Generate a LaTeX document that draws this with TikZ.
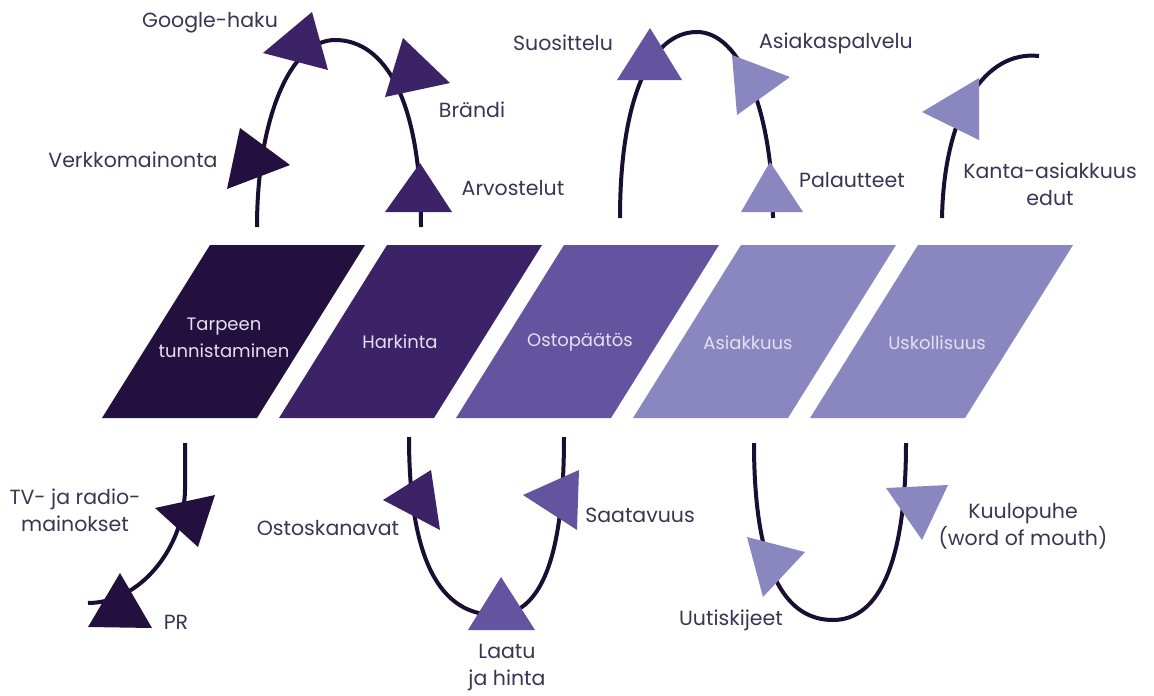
\documentclass[tikz,border=0pt]{standalone}
\usepackage{fontspec}
\setmainfont{Poppins}
\definecolor{cA}{HTML}{23103E}
\definecolor{cB}{HTML}{3C2266}
\definecolor{cC}{HTML}{6454A0}
\definecolor{cD}{HTML}{8A86C0}
\definecolor{linec}{HTML}{1A0F33}
\definecolor{labelc}{HTML}{3B3553}
\definecolor{stagetext}{HTML}{E4E0F0}
\begin{document}
\begin{tikzpicture}[x=1pt,y=-1pt,
  lbl/.style={text=labelc, font=\fontsize{20.5}{27}\selectfont, align=center, inner sep=0pt},
  stagelbl/.style={text=stagetext, font=\fontsize{18}{27}\selectfont, align=center, inner sep=0pt},
  conn/.style={draw=linec, line width=4pt}]
\useasboundingbox (0,0) rectangle (1154,696);
\fill[white] (0,0) rectangle (1154,696);

% stages
\foreach \i/\c in {0/cA,1/cB,2/cC,3/cD,4/cD}{
  \fill[\c] ({102+177*\i},418) -- ({257+177*\i},418) -- ({365+177*\i},245) -- ({210+177*\i},245) -- cycle;
}
\node[stagelbl] (s1) at (224,338) {Tarpeen\\tunnistaminen};
\node[stagelbl] (s2) at (400,342) {Harkinta};
\node[stagelbl] (s3) at (580,342) {Ostopäätös};
\node[stagelbl] (s4) at (748,343) {Asiakkuus};
\node[stagelbl] (s5) at (937,343) {Uskollisuus};

% curve end points
\coordinate (a1) at (257,227);
\coordinate (a2) at (421,227);
\coordinate (b1) at (620,218);
\coordinate (b2) at (773,218);
\coordinate (c1) at (942,218);
\coordinate (c2) at (1039,56);
\coordinate (d1) at (185,443);
\coordinate (d2) at (88,603);
\coordinate (e1) at (409,437);
\coordinate (e2) at (564,437);
\coordinate (f1) at (754,443);
\coordinate (f2) at (906,443);

% connectors
\draw[conn] (a1) .. controls (257,120) and (290,40) .. (335,40) .. controls (385,40) and (421,100) .. (a2);
\draw[conn] (b1) .. controls (620,100) and (650,32) .. (697,32) .. controls (740,32) and (773,110) .. (b2);
\draw[conn] (c1) .. controls (944,112) and (985,50) .. (c2);
\draw[conn] (d1) -- (185,490) .. controls (184,548) and (140,603) .. (d2);
\draw[conn] (e1) .. controls (409,560) and (440,615) .. (496,615) .. controls (540,615) and (564,560) .. (e2);
\draw[conn] (f1) .. controls (754,580) and (790,620) .. (833,620) .. controls (880,620) and (906,560) .. (f2);

% arrow triangles
\fill[cA] (240,128) -- (290,165) -- (227,189) -- cycle;
\fill[cB] (312,12) -- (328,70) -- (263,53) -- cycle;
\fill[cB] (403,38) -- (450,83) -- (385,97) -- cycle;
\fill[cB] (420,163) -- (452,212) -- (385,212) -- cycle;
\fill[cC] (650,28) -- (682,80) -- (617,80) -- cycle;
\fill[cD] (732,55) -- (790,77) -- (737,115) -- cycle;
\fill[cD] (770,162) -- (803,212) -- (741,212) -- cycle;
\fill[cD] (979,78) -- (922,112) -- (979,140) -- cycle;
\fill[cA] (215,495) -- (198,547) -- (155,508) -- cycle;
\fill[cA] (120,573) -- (152,628) -- (88,627) -- cycle;
\fill[cB] (431,470) -- (440,530) -- (383,500) -- cycle;
\fill[cC] (501,577) -- (535,630) -- (468,630) -- cycle;
\fill[cC] (579,470) -- (577,530) -- (523,495) -- cycle;
\fill[cD] (747,537) -- (805,552) -- (763,597) -- cycle;
\fill[cD] (886,488) -- (948,485) -- (922,540) -- cycle;

% labels
\node[lbl] (l1) at (210,23) {Google-haku};
\node[lbl] (l2) at (133,160) {Verkkomainonta};
\node[lbl] (l3) at (472,110) {Brändi};
\node[lbl] (l4) at (513,188) {Arvostelut};
\node[lbl] (l5) at (563,43) {Suosittelu};
\node[lbl] (l6) at (836,43) {Asiakaspalvelu};
\node[lbl] (l7) at (852,180) {Palautteet};
\node[lbl] (l8) at (1050,184) {Kanta-asiakkuus\\edut};
\node[lbl] (l9) at (75,510) {TV- ja radio-\\mainokset};
\node[lbl] (l10) at (176,622) {PR};
\node[lbl] (l11) at (328,528) {Ostoskanavat};
\node[lbl] (l12) at (507,668) {Laatu\\ja hinta};
\node[lbl] (l13) at (640,515) {Saatavuus};
\node[lbl] (l14) at (731,620) {Uutiskijeet};
\node[lbl] (l15) at (1023,526) {Kuulopuhe\\(word of mouth)};
\end{tikzpicture}
\end{document}
